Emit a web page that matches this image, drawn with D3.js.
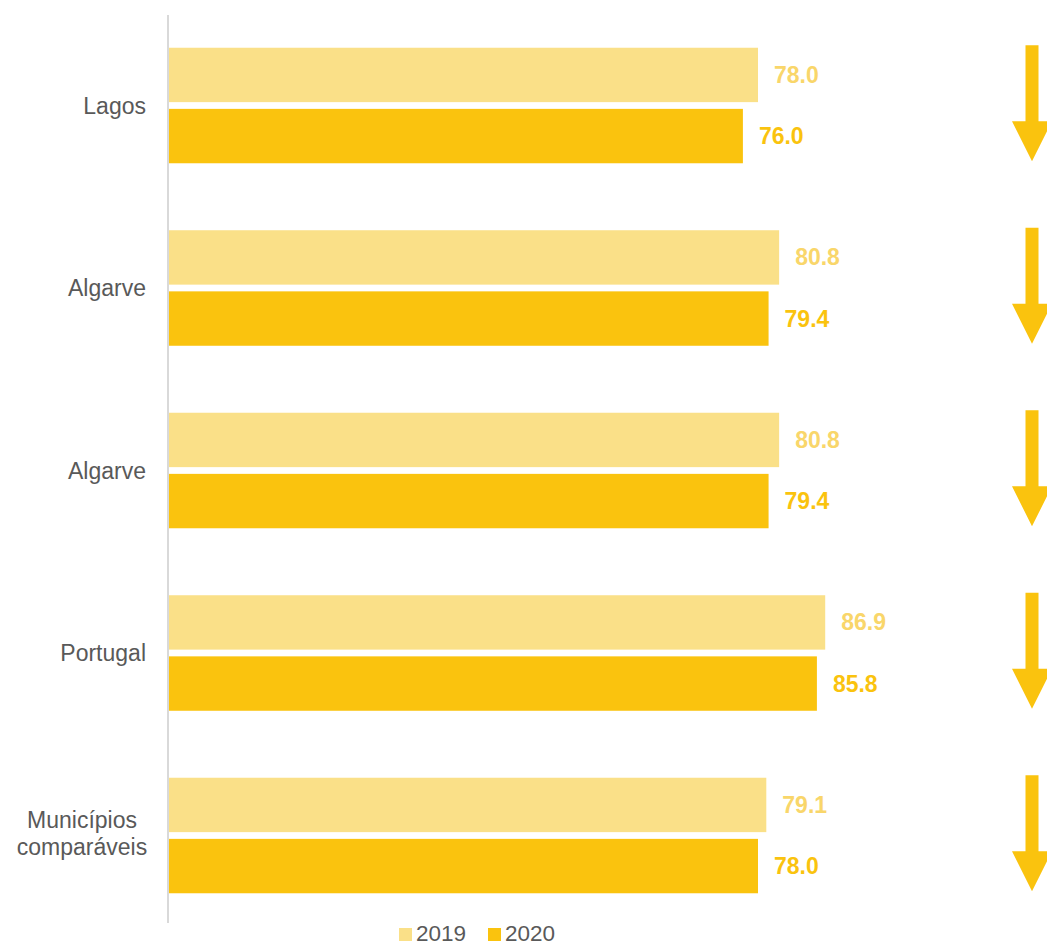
<!DOCTYPE html>
<html><head><meta charset="utf-8">
<script src="https://cdn.jsdelivr.net/npm/d3@7"></script>
<style>body{margin:0;background:#fff;} svg{display:block;}</style>
</head><body>
<script>
const categories = ["Lagos", "Algarve", "Algarve ", "Portugal", "Municípios comparáveis"];
const values2019 = [78.0, 80.8, 80.8, 86.9, 79.1];
const values2020 = [76.0, 79.4, 79.4, 85.8, 78.0];
const seriesNames = ["2019", "2020"];

const W = 1047, H = 946;
const colors = {"2019": "#FAE088", "2020": "#FAC30E"};
const labelColors = {"2019": "#F9D66A", "2020": "#FAC30E"};

const svg = d3.select("body").append("svg").attr("width", W).attr("height", H);
const font = "'Liberation Sans', Arial, sans-serif";

const x0 = 169;
const x = d3.scaleLinear().domain([0, 78]).range([x0, 758]);
const y = d3.scaleBand().domain(categories).range([14.25, 926.75]).paddingInner(0.367).paddingOuter(0.1835);
const ySub = d3.scaleBand().domain(seriesNames).range([0, y.bandwidth()]).paddingInner(0.11);

const data = categories.map((c, i) => ({cat: c, v: {"2019": values2019[i], "2020": values2020[i]}}));

// axis line
svg.append("line").attr("x1", 168).attr("x2", 168).attr("y1", 15).attr("y2", 923)
  .attr("stroke", "#d9d9d9").attr("stroke-width", 2);

const g = svg.selectAll("g.cat").data(data).join("g").attr("class", "cat")
  .attr("transform", d => `translate(0,${y(d.cat)})`);

seriesNames.forEach(s => {
  g.append("rect").attr("x", x0).attr("y", ySub(s)).attr("height", ySub.bandwidth())
    .attr("width", d => x(d.v[s]) - x0).attr("fill", colors[s]);
  g.append("text").attr("x", d => x(d.v[s]) + 16).attr("y", ySub(s) + ySub.bandwidth() / 2)
    .attr("dy", "0.35em").attr("font-family", font).attr("font-weight", "bold").attr("font-size", 23)
    .attr("fill", labelColors[s]).text(d => d.v[s].toFixed(1));
});

// category labels
g.each(function(d) {
  const name = d.cat.trim();
  const words = name === "Municípios comparáveis" ? ["Municípios", "comparáveis"] : [name];
  const multi = words.length > 1;
  const t = d3.select(this).append("text").attr("text-anchor", multi ? "middle" : "end")
    .attr("font-family", font).attr("font-size", 23).attr("fill", "#595959");
  words.forEach((w, i) => {
    t.append("tspan").attr("x", multi ? 82 : 146)
      .attr("y", y.bandwidth() / 2 + (multi ? -2 : 0) + (i - (words.length - 1) / 2) * 27).attr("dy", "0.35em").text(w);
  });
});

// arrows indicating change
const ax = 1032;
g.each(function(d) {
  const down = d.v["2020"] < d.v["2019"];
  const bw = y.bandwidth();
  const top = -2.5, bot = bw - 2;
  const shaftHalf = 6.5, headHalf = 20, headH = 40;
  let pts;
  if (down) {
    pts = [[ax - shaftHalf, top], [ax + shaftHalf, top], [ax + shaftHalf, bot - headH], [ax + headHalf, bot - headH],
           [ax, bot], [ax - headHalf, bot - headH], [ax - shaftHalf, bot - headH]];
  } else {
    pts = [[ax, top], [ax + headHalf, top + headH], [ax + shaftHalf, top + headH], [ax + shaftHalf, bot],
           [ax - shaftHalf, bot], [ax - shaftHalf, top + headH], [ax - headHalf, top + headH]];
  }
  d3.select(this).append("polygon").attr("points", pts.map(p => p.join(",")).join(" "))
    .attr("fill", "#FAC30E");
});

// legend
const leg = svg.append("g");
const legItems = [{s: "2019", x: 399}, {s: "2020", x: 488}];
legItems.forEach(it => {
  leg.append("rect").attr("x", it.x).attr("y", 928).attr("width", 13).attr("height", 13).attr("fill", colors[it.s]);
  leg.append("text").attr("x", it.x + 17).attr("y", 941).attr("font-family", font).attr("font-size", 22.5)
    .attr("fill", "#595959").text(it.s);
});
</script>
</body></html>
